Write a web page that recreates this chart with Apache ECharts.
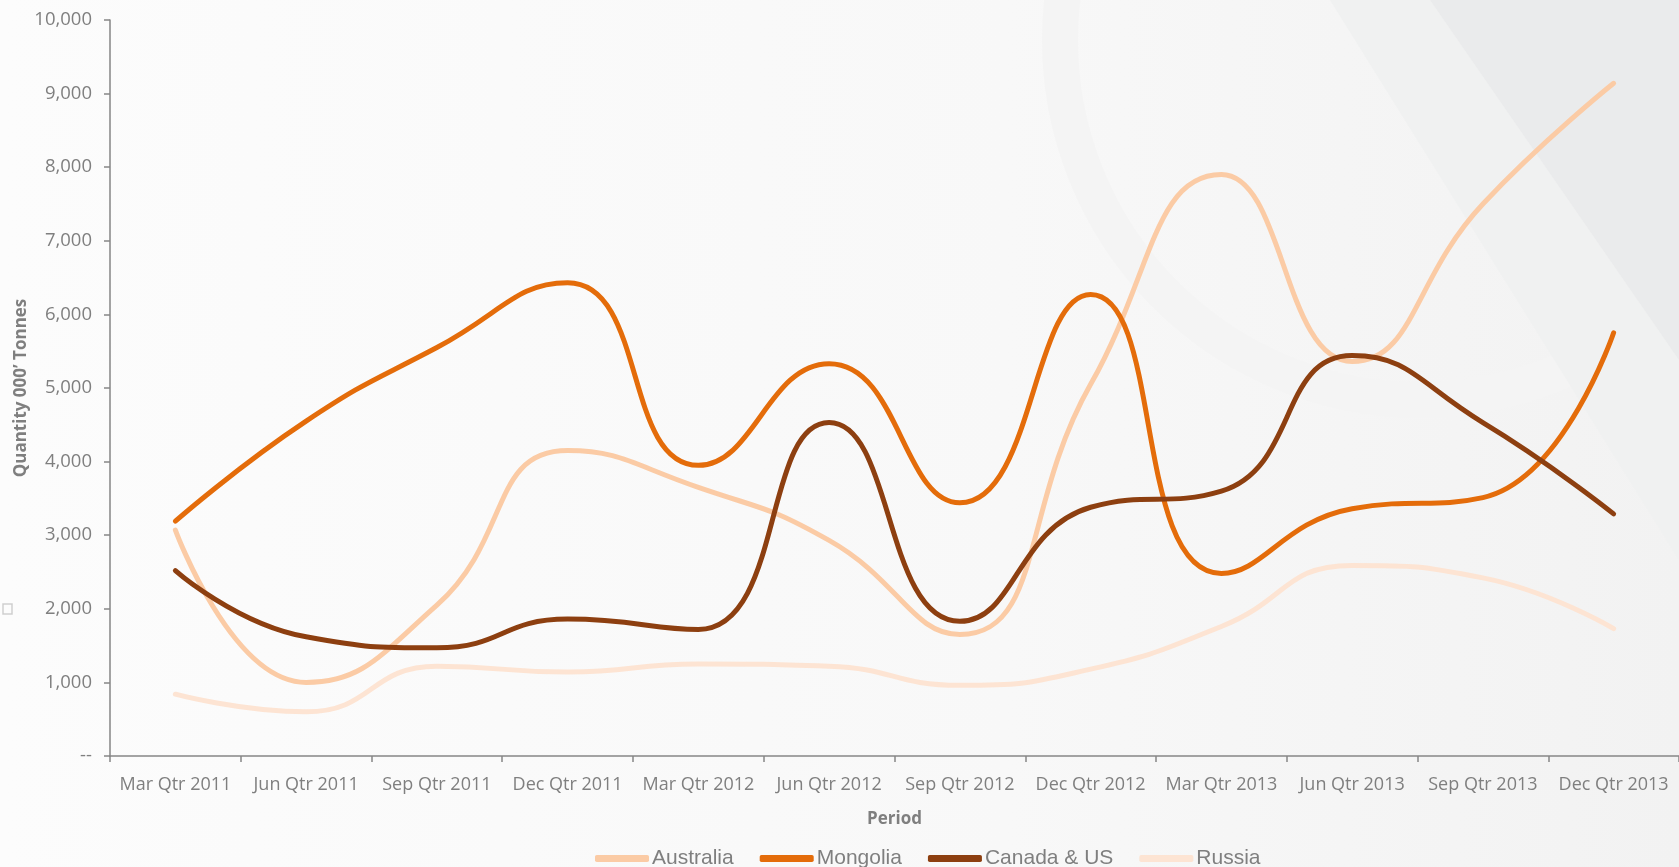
<!DOCTYPE html>
<html>
<head>
<meta charset="utf-8">
<script src="https://cdn.jsdelivr.net/npm/echarts@6/dist/echarts.min.js"></script>
<style>
html,body{margin:0;padding:0;background:#f9f9f9;}
#chart{width:1679px;height:867px;}
</style>
</head>
<body>
<div id="chart"></div>
<script>
var categories = ['Mar Qtr 2011','Jun Qtr 2011','Sep Qtr 2011','Dec Qtr 2011','Mar Qtr 2012','Jun Qtr 2012','Sep Qtr 2012','Dec Qtr 2012','Mar Qtr 2013','Jun Qtr 2013','Sep Qtr 2013','Dec Qtr 2013'];
var australia = [3070, 1000, 2050, 4150, 3650, 2930, 1650, 5050, 7900, 5360, 7500, 9140];
var mongolia  = [3190, 4550, 5550, 6430, 3950, 5330, 3440, 6270, 2480, 3360, 3510, 5750];
var canadaUS  = [2520, 1620, 1470, 1860, 1720, 4530, 1830, 3380, 3600, 5440, 4530, 3290];
var russia    = [840, 600, 1220, 1140, 1250, 1220, 960, 1180, 1760, 2590, 2420, 1730];
var yTicks = [0, 1000, 2000, 3000, 4000, 5000, 6000, 7000, 8000, 9000, 10000];

var chart = echarts.init(document.getElementById('chart'));
var gray = '#7f7f7f';
var axisGray = '#868686';
var font = "'Open Sans', 'Noto Sans', sans-serif";

function mk(name, data, color) {
  return {
    name: name, type: 'line', data: data, smooth: 0.5,
    showSymbol: false, symbol: 'none',
    lineStyle: {width: 5, color: color, cap: 'round'},
    itemStyle: {color: color},
    emphasis: {disabled: true}
  };
}

chart.setOption({
  backgroundColor: {
    type: 'linear', x: 0, y: 0, x2: 1, y2: 0,
    colorStops: [{offset: 0, color: '#fcfcfc'}, {offset: 0.6, color: '#f8f8f8'}, {offset: 1, color: '#f2f2f2'}]
  },
  animation: false,
  graphic: [
    {type: 'polygon', z: -10, silent: true,
     shape: {points: [[1430, 0], [1679, 0], [1679, 360]]},
     style: {fill: '#eaebec'}},
    {type: 'polygon', z: -11, silent: true,
     shape: {points: [[1330, 0], [1430, 0], [1679, 360], [1679, 560]]},
     style: {fill: '#f0f1f1'}},
    {type: 'circle', z: -12, silent: true,
     shape: {cx: 1420, cy: 40, r: 360},
     style: {fill: 'none', stroke: '#f4f4f4', lineWidth: 36}},
    {type: 'rect', z: 5, silent: true,
     shape: {x: 3, y: 604, width: 9, height: 10},
     style: {fill: 'none', stroke: '#cfcfcf', lineWidth: 1.5}}
  ],
  grid: {left: 110, right: 0, top: 20, bottom: 111, containLabel: false},
  legend: {
    bottom: -7, left: 590,
    icon: 'roundRect', itemWidth: 54, itemHeight: 7, itemGap: 26,
    textStyle: {fontFamily: "'Liberation Sans Narrow', 'Liberation Sans', sans-serif", fontSize: 21, color: gray, padding: [0, 0, 0, -2]},
    data: ['Australia', 'Mongolia', 'Canada & US', 'Russia'],
    selectedMode: false
  },
  xAxis: {
    type: 'category', data: categories, boundaryGap: true,
    name: 'Period', nameLocation: 'middle', nameGap: 55, nameMoveOverlap: false,
    nameTextStyle: {fontFamily: font, fontSize: 17, fontWeight: 'bold', color: gray},
    axisLine: {lineStyle: {color: axisGray, width: 1.5}},
    axisTick: {show: true, alignWithLabel: false, length: 6, lineStyle: {color: axisGray, width: 1.5}},
    axisLabel: {fontFamily: font, fontSize: 18, color: gray, margin: 20, interval: 0}
  },
  yAxis: {
    type: 'value', min: 0, max: 10000, interval: 1000,
    name: 'Quantity 000\u2019 Tonnes', nameLocation: 'middle', nameGap: 80, nameMoveOverlap: false,
    nameTextStyle: {fontFamily: font, fontSize: 17, fontWeight: 'bold', color: gray},
    splitLine: {show: false},
    axisLine: {show: true, lineStyle: {color: axisGray, width: 1.5}},
    axisTick: {show: true, length: 6, lineStyle: {color: axisGray, width: 1.5}},
    axisLabel: {
      fontFamily: font, fontSize: 18.5, color: gray, margin: 18,
      formatter: function (v) { return v === 0 ? '--' : v.toLocaleString('en-US'); }
    }
  },
  series: [
    mk('Australia', australia, '#fbcba5'),
    mk('Mongolia', mongolia, '#e46c0a'),
    mk('Canada & US', canadaUS, '#8d3f10'),
    mk('Russia', russia, '#fde4d3')
  ]
});
</script>
</body>
</html>
